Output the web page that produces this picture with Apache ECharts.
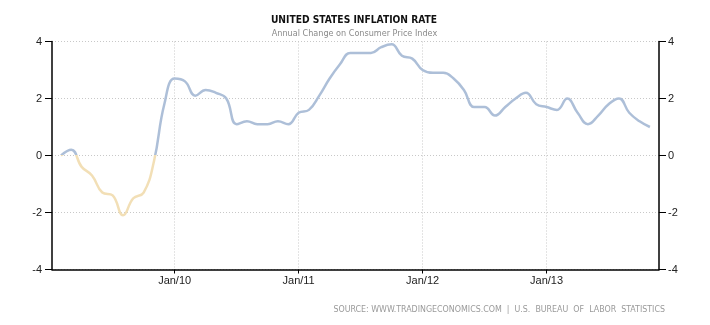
<!DOCTYPE html>
<html>
<head>
<meta charset="utf-8">
<script src="https://cdn.jsdelivr.net/npm/echarts@6/dist/echarts.min.js"></script>
<style>
html,body{margin:0;padding:0;background:#fff;}
#chart{width:710px;height:325px;}
</style>
</head>
<body>
<div id="chart"></div>
<script>
// Monthly observations, Jan 2009 .. Oct 2013 (plotted at month end)
var months = [
  '2009-01','2009-02','2009-03','2009-04','2009-05','2009-06','2009-07','2009-08','2009-09','2009-10','2009-11','2009-12',
  '2010-01','2010-02','2010-03','2010-04','2010-05','2010-06','2010-07','2010-08','2010-09','2010-10','2010-11','2010-12',
  '2011-01','2011-02','2011-03','2011-04','2011-05','2011-06','2011-07','2011-08','2011-09','2011-10','2011-11','2011-12',
  '2012-01','2012-02','2012-03','2012-04','2012-05','2012-06','2012-07','2012-08','2012-09','2012-10','2012-11','2012-12',
  '2013-01','2013-02','2013-03','2013-04','2013-05','2013-06','2013-07','2013-08','2013-09','2013-10'
];
var inflation = [
  0.0, 0.2, -0.4, -0.7, -1.3, -1.4, -2.1, -1.5, -1.3, -0.2, 1.8, 2.7,
  2.6, 2.1, 2.3, 2.2, 2.0, 1.1, 1.2, 1.1, 1.1, 1.2, 1.1, 1.5,
  1.6, 2.1, 2.7, 3.2, 3.6, 3.6, 3.6, 3.8, 3.9, 3.5, 3.4, 3.0,
  2.9, 2.9, 2.7, 2.3, 1.7, 1.7, 1.4, 1.7, 2.0, 2.2, 1.8, 1.7,
  1.6, 2.0, 1.5, 1.1, 1.4, 1.8, 2.0, 1.5, 1.2, 1.0
];
// Year tick positions (in months since Jan 1 2009) and labels
var yearTickPos = [12, 24, 36, 48];
var yearTickLabels = ['Jan/10', 'Jan/11', 'Jan/12', 'Jan/13'];
var yTicks = [-4, -2, 0, 2, 4];

var chart = echarts.init(document.getElementById('chart'), null, {renderer: 'canvas'});

var seriesData = inflation.map(function (v, i) { return [i + 1, v]; });
var labelFont = 'Liberation Sans, Arial, sans-serif';

var option = {
  backgroundColor: '#ffffff',
  animation: false,
  grid: {left: 52, right: 51, top: 41.5, bottom: 55.5, containLabel: false},
  graphic: [
    {type: 'text', z: 10, style: {x: 354, y: 20, text: 'UNITED STATES INFLATION RATE', align: 'center', verticalAlign: 'middle',
      fontFamily: 'DejaVu Sans Condensed, sans-serif', fontWeight: 'bold', fontSize: 10.2, fill: '#111'}},
    {type: 'text', z: 10, style: {x: 354.5, y: 34, text: 'Annual Change on Consumer Price Index', align: 'center', verticalAlign: 'middle',
      fontFamily: 'DejaVu Sans Condensed, sans-serif', fontSize: 9, fill: '#8a8a8a'}},
    {type: 'text', z: 10, style: {x: 665, y: 310, text: 'SOURCE: WWW.TRADINGECONOMICS.COM  |  U.S.  BUREAU  OF  LABOR  STATISTICS', align: 'right', verticalAlign: 'middle',
      fontFamily: 'DejaVu Sans Condensed, sans-serif', fontSize: 8.8, fill: '#9a9a9a'}}
  ],
  visualMap: {
    show: false, type: 'piecewise', dimension: 1, seriesIndex: 0,
    pieces: [{min: -100, max: 0, color: '#f2dfb6'}, {min: 0, max: 100, color: '#adbfd8'}]
  },
  xAxis: {
    type: 'value', min: 0.13, max: 58.88,
    axisLine: {show: true, onZero: false, lineStyle: {color: '#000', width: 1.5}},
    axisTick: {show: true, length: 4, customValues: yearTickPos, lineStyle: {color: '#000'}},
    axisLabel: {
      customValues: yearTickPos, color: '#222', fontSize: 11, fontFamily: labelFont, margin: 6,
      formatter: function (v) { var k = yearTickPos.indexOf(Math.round(v)); return k >= 0 ? yearTickLabels[k] : ''; }
    },
    splitLine: {show: true, lineStyle: {color: '#c8c8c8', type: [1, 2], width: 1}}
  },
  yAxis: [
    {
      type: 'value', position: 'left', min: yTicks[0], max: yTicks[yTicks.length - 1], interval: 2,
      axisLine: {show: true, onZero: false, lineStyle: {color: '#000', width: 1.5}},
      axisTick: {show: true, length: 7, lineStyle: {color: '#000'}},
      axisLabel: {color: '#222', fontSize: 11, fontFamily: labelFont, margin: 10},
      splitLine: {show: true, lineStyle: {color: '#c8c8c8', type: [1, 2], width: 1}}
    },
    {
      type: 'value', position: 'right', min: yTicks[0], max: yTicks[yTicks.length - 1], interval: 2,
      axisLine: {show: true, onZero: false, lineStyle: {color: '#000', width: 1.5}},
      axisTick: {show: true, length: 7, lineStyle: {color: '#000'}},
      axisLabel: {color: '#222', fontSize: 11, fontFamily: labelFont, margin: 9},
      splitLine: {show: false}
    }
  ],
  series: [{
    type: 'line', name: 'Inflation', xAxisIndex: 0, yAxisIndex: 0,
    data: seriesData, smooth: 0.45, showSymbol: false, symbol: 'none',
    lineStyle: {width: 2.5}, z: 5
  }]
};
chart.setOption(option);
</script>
</body>
</html>
